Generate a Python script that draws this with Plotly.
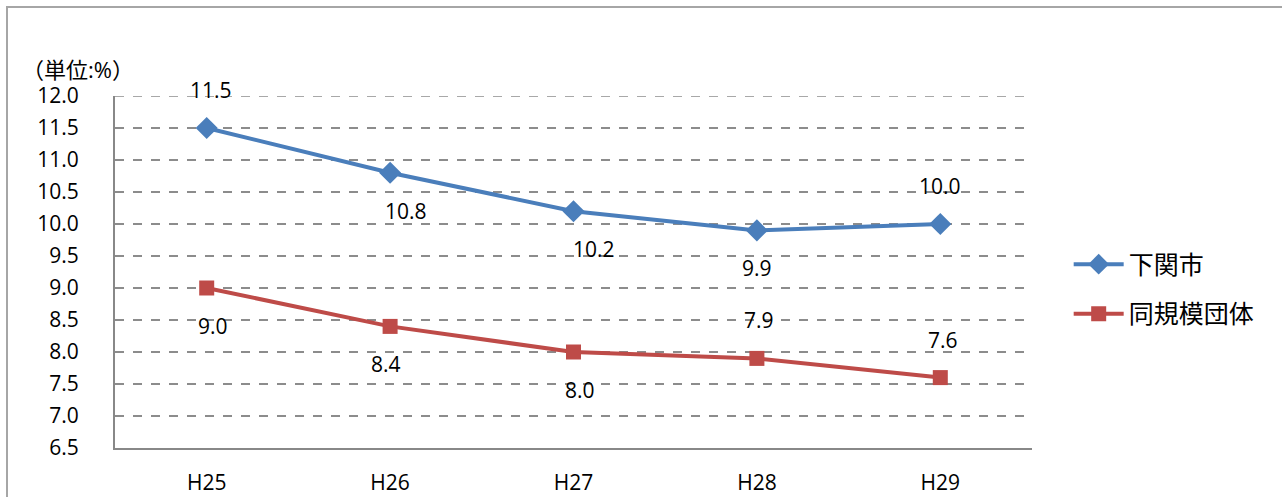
import plotly.graph_objects as go

# Fiscal years and ratios (%)
years = ["H25", "H26", "H27", "H28", "H29"]
shimonoseki = [11.5, 10.8, 10.2, 9.9, 10.0]
peer_group = [9.0, 8.4, 8.0, 7.9, 7.6]
series_names = ["下関市", "同規模団体"]
y_ticks = [6.5, 7.0, 7.5, 8.0, 8.5, 9.0, 9.5, 10.0, 10.5, 11.0, 11.5, 12.0]

# label placement: +1 above the point, -1 below
blue_side = [1, -1, -1, -1, 1]
red_side = [-1, -1, -1, 1, 1]
blue_dx = [4, 16, 20, 0, 0]
red_dx = [6, -4, 6, 2, 3]

BLUE = "#4A7EBB"
RED = "#BE4B48"
GRID = "#8C8C8C"
FONT = "Open Sans, Noto Sans CJK JP, sans-serif"
FS = 21

fig = go.Figure()
fig.add_trace(go.Scatter(
    x=years, y=shimonoseki, name=series_names[0], mode="lines+markers",
    legendgroup="city",
    line=dict(color=BLUE, width=4),
    marker=dict(symbol="diamond", size=17, color=BLUE),
))
fig.add_trace(go.Scatter(
    x=years, y=peer_group, name=series_names[1], mode="lines+markers",
    legendgroup="peer",
    line=dict(color=RED, width=4),
    marker=dict(symbol="square", size=15, color=RED),
))

annotations = []
for vals, sides, dxs in ((shimonoseki, blue_side, blue_dx), (peer_group, red_side, red_dx)):
    for x, v, s, dx in zip(years, vals, sides, dxs):
        annotations.append(dict(
            x=x, y=v, text=f"{v:.1f}", showarrow=False,
            yshift=38 * s, xshift=dx,
            font=dict(size=FS, color="#000000", family=FONT),
        ))

annotations.append(dict(
    xref="paper", yref="paper", x=(20 - 115) / 917, y=1 + (96 - 69) / 352,
    xanchor="left", yanchor="middle",
    text="（単位:%）", showarrow=False,
    font=dict(size=22, color="#000000", family=FONT),
))

fig.update_layout(
    width=1282, height=497,
    margin=dict(l=115, r=250, t=96, b=49),
    paper_bgcolor="white", plot_bgcolor="white",
    font=dict(family=FONT, size=FS, color="#000000"),
    showlegend=True,
    legend=dict(
        x=1.04, y=0.452, xanchor="left", yanchor="middle",
        font=dict(size=25, family=FONT),
        tracegroupgap=14, itemwidth=50,
        bgcolor="rgba(0,0,0,0)",
    ),
    xaxis=dict(
        type="category", range=[-0.5, 4.5], automargin=False,
        showgrid=False, showline=True, linecolor="#888888", linewidth=2,
        ticks="", ticklabelstandoff=15, zeroline=False,
        tickfont=dict(size=FS),
    ),
    yaxis=dict(
        range=[6.5, 12.0], tickvals=y_ticks, automargin=False,
        ticktext=[f"{t:.1f}" for t in y_ticks],
        showgrid=True, gridcolor=GRID, gridwidth=1.5, griddash="dash",
        showline=True, linecolor="#888888", linewidth=2,
        ticks="", ticklabelstandoff=30, zeroline=False,
        tickfont=dict(size=FS),
    ),
    annotations=annotations,
    shapes=[
        dict(
            type="rect", xref="paper", yref="paper",
            x0=(7 - 115) / 917, x1=1.6, y0=-0.5, y1=1 + (96 - 7) / 352,
            line=dict(color="#A6A6A6", width=2), layer="below",
        ),
        # top gridline sits on the plot edge, so draw it explicitly
        dict(
            type="line", xref="paper", yref="y", x0=0, x1=1,
            y0=y_ticks[-1], y1=y_ticks[-1],
            line=dict(color=GRID, width=1.5, dash="dash"), layer="below",
        ),
    ],
)

fig.write_html("out.html")
